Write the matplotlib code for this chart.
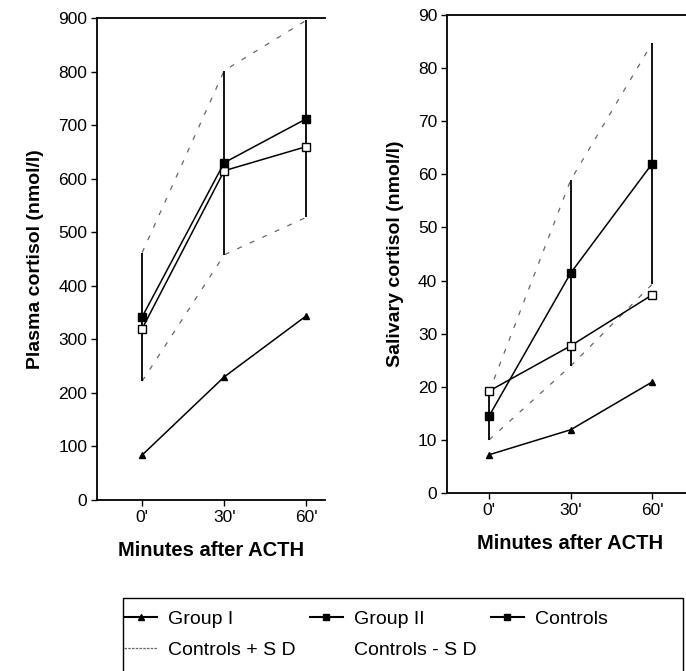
import numpy as np
import matplotlib.pyplot as plt
from matplotlib.lines import Line2D
from matplotlib.patches import Rectangle

plt.rcParams['font.family'] = ['Liberation Sans', 'DejaVu Sans']

# minutes after ACTH
minutes = [0, 30, 60]
xlabels = ["0'", "30'", "60'"]

# plasma cortisol (nmol/l)
plasma_group1 = [84, 230, 344]
plasma_group2 = [320, 615, 660]
plasma_controls = [342, 630, 712]
plasma_sd = [120, 172, 184]

# salivary cortisol (nmol/l)
saliva_group1 = [7.2, 11.9, 20.9]
saliva_group2 = [19.2, 27.7, 37.3]
saliva_controls = [14.5, 41.4, 62.0]
saliva_sd = [4.5, 17.5, 22.7]

fig = plt.figure(figsize=(6.86, 6.71), dpi=100)
ax1 = fig.add_axes([0.1414, 0.2548, 0.333, 0.7182])
ax2 = fig.add_axes([0.6516, 0.2653, 0.36, 0.7123])


def draw(ax, g1, g2, ctrl, sd, ymax, ylabel, xlim):
    ctrl = np.array(ctrl)
    sd = np.array(sd)
    x = np.array(minutes)
    # controls +/- SD as dashed lines
    ax.plot(x, ctrl + sd, color='0.4', lw=0.9, dashes=(4, 7))
    ax.plot(x, ctrl - sd, color='0.4', lw=0.9, dashes=(4, 7))
    # error bars
    ax.vlines(x, ctrl - sd, ctrl + sd, color='black', lw=1.3)
    ax.plot(x, g1, color='black', lw=1.1, marker='^', ms=5)
    ax.plot(x, g2, color='black', lw=1.1, marker='s', ms=6, mfc='white', mew=1.0)
    ax.plot(x, ctrl, color='black', lw=1.1, marker='s', ms=6)
    ax.set_xlim(*xlim)
    ax.set_ylim(0, ymax)
    ax.set_xticks(minutes)
    ax.set_xticklabels(xlabels)
    ax.spines['right'].set_visible(False)
    for s in ['left', 'top', 'bottom']:
        ax.spines[s].set_linewidth(1.3)
    ax.tick_params(labelsize=12.5, length=4, width=1, pad=3)
    ax.set_xlabel('Minutes after ACTH', fontsize=14.5, fontweight='bold', labelpad=12)
    ax.set_ylabel(ylabel, fontsize=14, fontweight='bold', labelpad=10)


draw(ax1, plasma_group1, plasma_group2, plasma_controls, plasma_sd, 900,
     'Plasma cortisol (nmol/l)', (-16.5, 67))
ax1.set_yticks(range(0, 901, 100))
draw(ax2, saliva_group1, saliva_group2, saliva_controls, saliva_sd, 90,
     'Salivary cortisol (nmol/l)', (-15.5, 75.4))
ax2.set_yticks(range(0, 91, 10))

# legend box running off the bottom edge
fig.patches.append(Rectangle((123 / 686, -0.05), (683 - 123) / 686,
                             1 - 598 / 671 + 0.05,
                             transform=fig.transFigure, fill=False,
                             edgecolor='black', lw=1.0))

handles = [
    Line2D([], [], color='black', lw=1.5, marker='^', ms=4),
    Line2D([], [], color='0.4', lw=0.9, dashes=(2, 1)),
    Line2D([], [], color='black', lw=1.5, marker='s', ms=4),
    Line2D([], [], color='white', lw=0.9),
    Line2D([], [], color='black', lw=1.5, marker='s', ms=4),
]
labels = ['Group I', 'Controls + S D', 'Group II', 'Controls - S D', 'Controls']
leg = fig.legend(handles, labels, ncol=3, loc='upper left',
                 bbox_to_anchor=(124 / 686, 1 - 610 / 671), fontsize=14,
                 frameon=False, handlelength=1.7, handletextpad=0.55,
                 columnspacing=0.75, labelspacing=0.7, borderpad=0.0,
                 borderaxespad=0.0)

fig.savefig('out.png', dpi=100)
